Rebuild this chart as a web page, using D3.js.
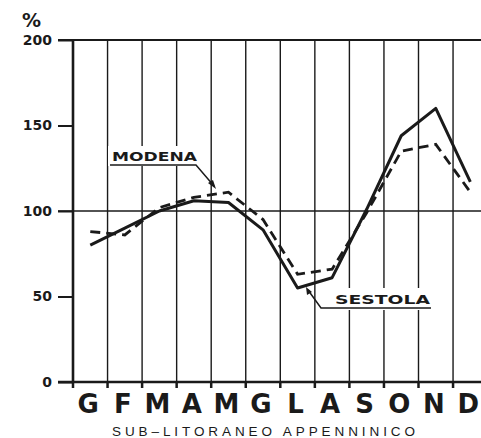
<!DOCTYPE html>
<html><head><meta charset="utf-8">
<script src="https://cdn.jsdelivr.net/npm/d3@7"></script>
<style>body{margin:0;background:#fff}svg{display:block}</style>
</head><body>
<svg id="c" width="481" height="438"></svg>
<script>
const months = ["G","F","M","A","M2","G2","L","A2","S","O","N","D"];
const monthLabels = ["G","F","M","A","M","G","L","A","S","O","N","D"];
const sestola = [80, 90, 100, 106, 105, 89, 55, 61, 101, 144, 160, 117];
const modena = [88, 86, 102, 108, 111, 95, 63, 66, 99, 135, 139, 111];
const yTicks = [0, 50, 100, 150, 200];
const subtitle = "SUB\u2013LITORANEO APPENNINICO";

const svg = d3.select("#c");
const x = d3.scaleBand().domain(months).range([73, 73 + 12 * 34.55]);
const y = d3.scaleLinear().domain([0, 200]).range([382, 40]);
const ink = "#1a1a1a";
const boldFont = "DejaVu Sans, Verdana, sans-serif";

const g = svg.append("g");
g.selectAll("line.v").data(months).join("line")
  .attr("x1", d => x(d)).attr("x2", d => x(d))
  .attr("y1", y(200)).attr("y2", y(0))
  .attr("stroke", ink).attr("stroke-width", (d, i) => i === 0 ? 2.6 : 1.4);

g.selectAll("line.bt").data(months).join("line")
  .attr("x1", d => x(d)).attr("x2", d => x(d))
  .attr("y1", y(0)).attr("y2", y(0) + 6)
  .attr("stroke", ink).attr("stroke-width", 2.5);

[[200, 2.2], [100, 1.6], [0, 2.6]].forEach(([v, w]) => {
  g.append("line").attr("x1", 58).attr("x2", 481)
    .attr("y1", y(v)).attr("y2", y(v)).attr("stroke", ink).attr("stroke-width", w);
});

const yAxis = d3.axisLeft(y).tickValues(yTicks).tickSize(14).tickPadding(6);
const ya = svg.append("g").attr("transform", "translate(72,0)").call(yAxis);
ya.select(".domain").remove();
ya.selectAll(".tick line").attr("stroke", ink).attr("stroke-width", 2);
ya.selectAll(".tick text").attr("font-family", boldFont)
  .attr("font-weight", "bold").attr("font-size", 14).attr("fill", ink);

svg.append("text").attr("x", 22).attr("y", 27).text("%")
  .attr("font-family", boldFont).attr("font-weight", "bold")
  .attr("font-size", 19).attr("fill", ink);

const line = d3.line().x((d, i) => x(months[i]) + x.bandwidth() / 2).y(d => y(d));
svg.append("path").datum(modena).attr("d", line).attr("fill", "none")
  .attr("stroke", ink).attr("stroke-width", 2.8).attr("stroke-dasharray", "10,6");
svg.append("path").datum(sestola).attr("d", line).attr("fill", "none")
  .attr("stroke", ink).attr("stroke-width", 3).attr("stroke-linejoin", "round");

const lab = svg.append("g");
lab.append("rect").attr("x", 108).attr("y", 146).attr("width", 92).attr("height", 20).attr("fill", "#fff");
lab.append("text").attr("x", 112).attr("y", 160.5).text("MODENA")
  .attr("textLength", 85).attr("lengthAdjust", "spacingAndGlyphs")
  .attr("font-family", boldFont).attr("font-weight", "bold")
  .attr("font-size", 12.5).attr("fill", ink);
lab.append("polyline").attr("points", "110,165 196,165 214,186")
  .attr("fill", "none").attr("stroke", ink).attr("stroke-width", 1.5);
lab.append("path").attr("d", "M216,189 L208,183 L213,180 Z").attr("fill", ink);

lab.append("rect").attr("x", 320).attr("y", 288).attr("width", 118).attr("height", 22).attr("fill", "#fff");
lab.append("text").attr("x", 335).attr("y", 303.5).text("SESTOLA")
  .attr("textLength", 95).attr("lengthAdjust", "spacingAndGlyphs")
  .attr("font-family", boldFont).attr("font-weight", "bold")
  .attr("font-size", 12.5).attr("fill", ink);
lab.append("polyline").attr("points", "431,308 321,308 308,290")
  .attr("fill", "none").attr("stroke", ink).attr("stroke-width", 1.5);
lab.append("path").attr("d", "M306,287 L312,292 L307,295 Z").attr("fill", ink);

svg.append("g").selectAll("text").data(months).join("text")
  .attr("x", d => x(d) + x.bandwidth() / 2 - 2).attr("y", 413)
  .attr("text-anchor", "middle").text((d, i) => monthLabels[i])
  .attr("font-family", boldFont).attr("font-weight", "bold")
  .attr("font-size", 26).attr("fill", ink);

svg.append("text").attr("x", 112).attr("y", 436).text(subtitle)
  .attr("textLength", 303).attr("lengthAdjust", "spacing")
  .attr("font-family", "Liberation Sans, Arial, sans-serif")
  .attr("font-size", 13.5).attr("fill", ink);
</script>
</body></html>
